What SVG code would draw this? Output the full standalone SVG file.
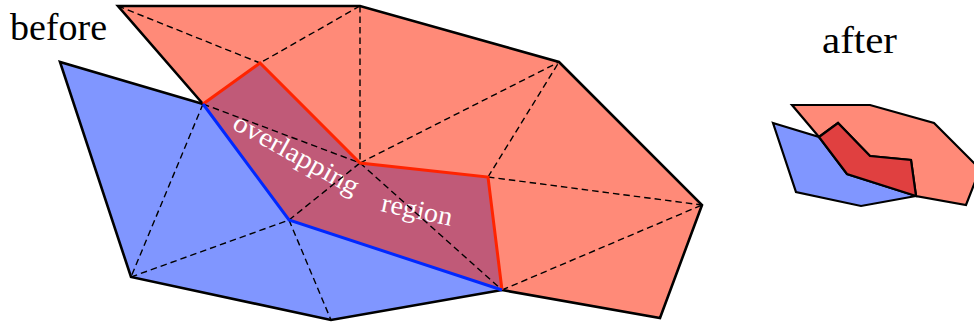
<svg xmlns="http://www.w3.org/2000/svg" width="974" height="325" viewBox="0 0 974 325">
  <style>
    .redfill { fill: #ff8a78; }
    .bluefill { fill: #8096ff; }
    .overlap { fill: #c05a78; }
    .dash { stroke: #000; stroke-width: 1.4; stroke-dasharray: 6.5 4; fill: none; }
    .outline { stroke: #000; stroke-width: 2.6; fill: none; stroke-linejoin: miter; }
    .redline { stroke: #ff2400; stroke-width: 3; fill: none; stroke-linejoin: miter; }
    .blueline { stroke: #0028ff; stroke-width: 3; fill: none; stroke-linejoin: miter; }
    .label { font-family: "Liberation Serif", "DejaVu Serif", serif; fill: #000; }
    .inlabel { font-family: "Liberation Serif", "DejaVu Serif", serif; fill: #fff; font-size: 27px; }
    .after-poly { stroke: #000; stroke-width: 2.2; stroke-linejoin: miter; }
  </style>

  <g id="before">
    <g id="blue-mesh">
      <polygon class="bluefill" points="60,62 203,104 289,220 502,290 331,320 131,277"/>
    </g>
    <g id="red-mesh">
      <polygon class="redfill" points="118,6 360,6 559,62 702,205 660,318 502,290 488,177 360,163 260,63 203,104"/>
    </g>
    <g id="overlap-region">
      <polygon class="overlap" points="203,104 260,63 360,163 488,177 502,290 289,220"/>
      <text class="inlabel" transform="translate(231,128) rotate(29)" textLength="140" lengthAdjust="spacingAndGlyphs">overlapping</text>
      <text class="inlabel" transform="translate(380,211) rotate(12)" textLength="72" lengthAdjust="spacingAndGlyphs">region</text>
    </g>
    <g id="connectors">
      <line class="dash" x1="118" y1="6" x2="260" y2="63"/>
      <line class="dash" x1="360" y1="6" x2="260" y2="63"/>
      <line class="dash" x1="360" y1="6" x2="360" y2="163"/>
      <line class="dash" x1="203" y1="104" x2="360" y2="163"/>
      <line class="dash" x1="360" y1="163" x2="559" y2="62"/>
      <line class="dash" x1="488" y1="177" x2="559" y2="62"/>
      <line class="dash" x1="488" y1="177" x2="702" y2="205"/>
      <line class="dash" x1="502" y1="290" x2="702" y2="205"/>
      <line class="dash" x1="360" y1="163" x2="502" y2="290"/>
      <line class="dash" x1="203" y1="104" x2="131" y2="277"/>
      <line class="dash" x1="131" y1="277" x2="289" y2="220"/>
      <line class="dash" x1="289" y1="220" x2="331" y2="320"/>
      <line class="dash" x1="289" y1="220" x2="360" y2="163"/>
    </g>
    <g id="outlines">
      <polyline class="outline" points="203,104 118,6 360,6 559,62 702,205 660,318 502,290"/>
      <polyline class="outline" points="203,104 60,62 131,277 331,320 502,290"/>
      <polyline class="redline" points="203,104 260,63 360,163 488,177 502,290"/>
      <polyline class="blueline" points="203,104 289,220 502,290"/>
    </g>
    <text id="before-label" class="label" x="10" y="40" font-size="38" textLength="97" lengthAdjust="spacingAndGlyphs">before</text>
  </g>

  <g id="after">
    <text id="after-label" class="label" x="822" y="53" font-size="37" textLength="75" lengthAdjust="spacingAndGlyphs">after</text>
    <polygon id="after-blue" class="after-poly" fill="#8096ff" points="773,123 819,137 847,174 916,196 861,206 796,192"/>
    <polygon id="after-red" class="after-poly" fill="#ff8a78" points="792,105 870,105 934,123 980,169 966,205 916,196 911,160 870,156 838,123 819,137"/>
    <polygon id="after-overlap" class="after-poly" fill="#e04040" points="819,137 838,123 870,156 911,160 916,196 847,174"/>
  </g>
</svg>
